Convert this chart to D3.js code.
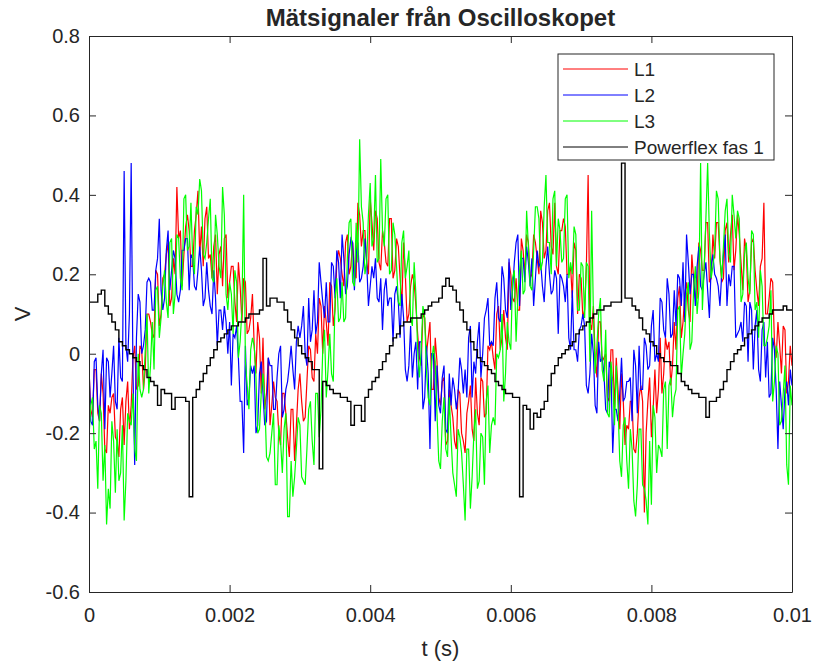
<!DOCTYPE html>
<html>
<head>
<meta charset="utf-8">
<script src="https://cdn.jsdelivr.net/npm/d3@7"></script>
<style>
  html, body { margin: 0; padding: 0; background: #ffffff; }
  svg text { font-family: "Liberation Sans", Arial, Helvetica, sans-serif; fill: #262626; }
</style>
</head>
<body>
<svg id="chart" width="815" height="663"></svg>
<script>
// ---- data (volts). Samples every 50 µs (t = i*dt) plus mid samples (t = (i+0.5)*dt) ----
const sampleInterval = 0.00005;
const seriesNames = ["L1", "L2", "L3", "Powerflex fas 1"];
const seriesColors = ["#ff0000", "#0000ff", "#00ff00", "#000000"];
const xTicks = [0, 0.002, 0.004, 0.006, 0.008, 0.01];
const xTickLabels = ["0", "0.002", "0.004", "0.006", "0.008", "0.01"];
const yTicks = [0.8, 0.6, 0.4, 0.2, 0, -0.2, -0.4, -0.6];
const yTickLabels = ["0.8", "0.6", "0.4", "0.2", "0", "-0.2", "-0.4", "-0.6"];

const L1 = [
 -.04,-.16,-.04,-.17,-.10,-.25,-.15,-.10,-.22,-.14,
 -.23,-.07,-.13,.02,-.08,.01,-.04,.10,.05,.21,
 .07,.19,.25,.12,.24,.42,.31,.25,.35,.22,
 .31,.41,.32,.34,.24,.19,.30,.25,.17,.30,
 .18,.22,.08,.17,.19,.05,.09,.02,.08,-.10,
 -.14,-.01,-.13,-.11,-.20,-.10,-.15,-.26,-.14,-.18,
 -.05,-.17,-.07,.01,-.07,.00,.12,.12,.02,.17,
 .11,.26,.20,.28,.20,.28,.19,.35,.31,.23,
 .39,.26,.34,.21,.28,.22,.34,.21,.27,.12,
 .20,.10,.20,.12,-.01,.10,.00,.08,-.09,-.02,
 -.13,-.06,-.22,-.13,-.22,-.09,-.20,-.25,-.12,-.19,
 -.06,-.18,-.07,-.15,.01,-.01,.10,.01,.11,.01,
 .20,.13,.11,.29,.20,.28,.20,.28,.20,.33,
 .26,.38,.25,.22,.31,.34,.20,.22,.28,.10,
 .19,.11,.45,.06,-.01,.08,-.02,.00,-.12,.01,
 -.01,-.19,-.12,-.18,-.12,-.24,-.20,-.08,-.40,-.12,
 -.21,-.04,-.09,-.10,.04,.03,-.03,.01,.17,.08,
 .18,.08,.19,.14,.26,.21,.33,.19,.24,.33,
 .18,.31,.23,.35,.26,.30,.16,.26,.16,.29,
 .16,.22,.38,.10,.19,.03,.08,-.05,.06,-.07,
 -.03
];
const L1mid = [
 -.14,-.04,-.15,-.05,-.24,-.13,-.11,-.21,-.26,-.11,
 -.12,-.19,-.01,-.09,.02,-.09,.10,.08,.04,.20,
 .10,.20,.28,.14,.20,.29,.17,.32,.31,.22,
 .35,.25,.22,.37,.25,.27,.15,.27,.29,.14,
 .22,.13,.23,.08,.18,.06,.15,-.05,.04,.04,
 -.10,-.18,-.07,-.12,-.23,-.10,-.21,-.14,-.27,-.09,
 -.12,-.16,.02,-.06,.05,.14,.00,.08,.18,.07,
 .23,.24,.17,.30,.22,.21,.38,.27,.31,.20,
 .33,.36,.23,.31,.23,.34,.19,.29,.19,.28,
 .08,.17,.18,.05,-.03,.09,.04,-.09,.04,-.11,
 -.07,-.23,-.09,-.16,-.24,-.10,-.22,-.15,-.08,-.22,
 -.15,-.06,-.16,.02,.03,-.04,.12,.04,.04,.23,
 .14,.19,.11,.26,.30,.19,.30,.24,.36,.24,
 .36,.27,.38,.20,.31,.32,.20,.14,.26,.20,
 .09,.22,.08,.12,-.06,.08,-.01,-.11,.01,-.14,
 -.09,-.05,-.23,-.19,-.12,-.25,-.11,-.12,-.20,-.06,
 -.14,-.15,.04,-.05,.01,-.08,.08,.14,.04,.15,
 .11,.25,.14,.28,.21,.33,.18,.30,.33,.24,
 .19,.33,.30,.21,.35,.23,.29,.13,.28,.21,
 .12,.24,.10,.14,.18,-.01,.02,.07,-.10,.02
];
const L2 = [
 -.03,-.18,-.01,-.17,.01,-.01,-.11,.02,-.14,-.06,
 .46,-.02,.48,-.28,.15,.00,.06,.19,.11,.21,
 .34,.11,.26,.16,.26,.15,.16,.26,.29,.25,
 .17,.21,.21,.14,.16,.10,.14,.11,.06,.08,
 .08,.05,.07,-.12,-.25,-.13,-.03,-.03,-.18,-.02,
 -.18,-.01,-.03,-.14,.00,-.16,-.09,-.03,-.04,.03,
 .04,.12,-.03,.03,.16,.08,.18,.09,.08,.23,
 .14,.23,.30,.15,.25,.28,.25,.18,.22,.23,
 .17,.19,.14,.19,.16,.12,.14,.15,.13,.15,
 -.04,-.03,-.06,.03,.03,-.14,.02,-.24,.00,-.03,
 -.15,-.03,-.20,-.13,-.09,-.10,-.04,-.04,.04,-.11,
 -.05,.08,.00,.11,.02,.02,.18,.08,.19,.09,
 .11,.23,.30,.24,.18,.23,.24,.19,.22,.17,
 .22,.20,.16,.19,.20,.17,.20,.01,.01,-.02,
 .07,.07,-.10,.05,-.13,.03,-.01,-.14,-.02,-.25,
 -.14,-.10,-.12,-.07,-.06,.01,-.15,-.09,.04,-.04,
 .07,-.02,-.02,.13,.04,.15,.05,.07,.19,.23,
 .30,.15,.20,.22,.17,.20,.16,.22,.20,.17,
 .20,.30,.20,.22,.04,.06,.03,.12,.13,-.04,
 .11,-.07,.08,.03,-.10,.01,-.24,-.13,-.09,-.13,
 -.08
];
const L2mid = [
 -.17,-.02,-.13,-.05,-.19,-.02,-.05,-.12,.04,-.07,
 .02,.10,-.04,.04,.13,.02,.18,.18,.11,.24,
 .16,.14,.31,.21,.24,.13,.26,.29,.16,.24,
 .16,.27,.12,.23,.12,.21,.02,.11,.12,.00,
 -.08,.04,-.01,-.12,.02,-.11,-.05,-.20,-.05,-.10,
 -.17,-.03,-.14,-.06,.02,-.14,-.07,.02,-.09,.07,
 .07,.00,.14,.06,.05,.23,.13,.18,.08,.22,
 .26,.14,.24,.17,.29,.16,.28,.19,.29,.12,
 .22,.24,.13,.06,.19,.14,.03,.17,.04,.09,
 -.07,.07,.00,-.09,.03,-.11,-.05,.00,-.17,-.13,
 -.06,-.19,-.05,-.06,-.14,-.01,-.10,-.11,.07,-.02,
 .03,-.06,.09,.14,.03,.14,.09,.22,.11,.24,
 .16,.28,.12,.24,.27,.17,.12,.26,.23,.13,
 .27,.15,.21,.05,.19,.13,.04,.16,.01,.06,
 .10,-.08,-.05,.00,-.15,-.02,-.05,-.15,-.04,-.14,
 -.17,-.01,-.11,-.07,-.17,-.03,.02,-.09,.02,-.03,
 .11,.00,.14,.06,.19,.04,.16,.20,.12,.08,
 .23,.20,.12,.27,.16,.23,.09,.25,.19,.12,
 .25,.12,.17,.22,.05,.08,.13,-.02,.11,.07,
 -.04,.06,-.06,-.11,.04,-.09,-.07,-.19,-.07,-.04
];
const L3 = [
 -.21,-.11,-.22,-.13,-.32,-.43,-.39,-.22,-.19,-.30,
 -.42,-.15,-.18,-.24,.00,-.11,.01,-.10,.08,.16,
 .04,.17,.13,.28,.10,.30,.19,.39,.26,.38,
 .20,.35,.41,.24,.34,.19,.35,.22,.42,.15,
 .18,.05,.18,.03,.40,-.08,.01,.02,-.20,-.10,
 -.11,-.27,-.20,-.33,-.18,-.30,-.15,-.41,-.36,-.24,
 -.18,-.32,-.24,-.12,-.28,-.10,-.14,.06,-.04,-.05,
 .14,.08,.18,.09,.33,.18,.33,.54,.33,.23,
 .43,.29,.23,.49,.27,.40,.21,.30,.13,.28,
 .19,.26,.07,.15,-.06,.12,-.04,-.13,.02,-.15,
 -.29,-.11,-.26,-.21,-.33,-.19,-.25,-.42,-.24,-.31,
 -.14,-.32,-.21,-.12,-.25,-.16,.00,.01,-.12,.08,
 .01,.21,.14,.26,.16,.27,.16,.37,.34,.23,
 .45,.28,.39,.22,.31,.24,.40,.23,.32,.11,
 .23,.09,.22,.36,-.05,.10,-.04,.06,-.16,-.07,
 -.03,-.27,-.18,-.27,-.19,-.37,-.33,-.19,-.34,-.43,
 -.38,-.16,-.23,-.26,-.07,-.08,-.16,-.09,.12,.00,
 .15,.01,.16,.10,.48,.21,.48,.19,.26,.39,
 .19,.36,.25,.40,.29,.34,.15,.28,.15,.30,
 .13,.21,.02,.04,.16,-.07,.00,-.17,-.03,-.33,
 -.13
];
const L3mid = [
 -.13,-.24,-.34,-.15,-.23,-.34,-.17,-.35,-.32,-.18,
 -.32,-.17,-.10,-.27,-.09,-.09,.10,-.03,-.04,.17,
 .09,.21,.09,.29,.15,.29,.16,.40,.27,.24,
 .37,.44,.25,.28,.39,.18,.30,.19,.35,.11,
 .15,.21,-.01,.11,-.02,-.14,.04,-.06,-.19,-.05,
 -.26,-.25,-.15,-.33,-.22,-.19,-.41,-.27,-.31,-.16,
 -.31,-.33,-.14,-.22,-.10,-.21,.01,-.11,.05,-.07,
 .19,.09,.08,.24,.34,.17,.23,.37,.20,.35,
 .27,.45,.24,.31,.39,.20,.33,.22,.12,.31,
 .22,.09,.23,.01,.01,.09,-.11,-.02,-.02,-.27,
 -.17,-.24,-.11,-.30,-.36,-.21,-.33,-.24,-.39,-.20,
 -.34,-.20,-.33,-.08,-.18,-.18,-.01,.10,-.05,.03,
 .19,.03,.21,.15,.36,.17,.26,.37,.21,.37,
 .28,.20,.41,.34,.23,.39,.19,.20,.30,.11,
 .22,.23,-.02,.10,.02,.14,-.07,-.15,-.02,-.18,
 -.13,-.31,-.16,-.34,-.24,-.41,-.19,-.33,-.37,-.22,
 -.13,-.30,-.24,-.09,-.24,-.06,-.11,.11,-.06,.05,
 .18,.03,.22,.16,.11,.34,.30,.22,.41,.24,
 .27,.39,.23,.35,.36,.13,.25,.19,.31,.11,
 .04,.17,.02,.07,-.12,.02,-.18,-.10,-.28,-.08
];
const powerflex = [
 .13,.13,.13,.15,.16,.12,.10,.08,.06,.03,
 .02,.01,.00,-.01,-.02,-.03,-.04,-.06,-.07,-.08,
 -.13,-.09,-.10,-.10,-.14,-.11,-.11,-.11,-.12,-.36,
 -.11,-.09,-.07,-.05,-.03,-.01,.01,.03,.04,.05,
 .06,.07,.07,.08,.08,.09,.10,.10,.10,.11,
 .24,.12,.14,.14,.13,.13,.11,.08,.06,.04,
 .02,.00,-.01,-.02,-.04,-.04,-.29,-.07,-.08,-.09,
 -.10,-.10,-.11,-.11,-.12,-.18,-.13,-.13,-.17,-.11,
 -.09,-.07,-.06,-.04,-.02,.00,.02,.04,.05,.07,
 .08,.08,.09,.09,.09,.10,.11,.12,.13,.13,
 .14,.17,.19,.17,.16,.13,.11,.08,.06,.03,
 .01,-.01,-.02,-.03,-.04,-.05,-.07,-.08,-.09,-.10,
 -.10,-.11,-.11,-.36,-.13,-.14,-.19,-.15,-.16,-.14,
 -.12,-.08,-.05,-.03,-.01,.00,.01,.02,.03,.05,
 .06,.07,.08,.09,.10,.11,.11,.12,.12,.13,
 .13,.13,.48,.14,.14,.12,.11,.09,.06,.05,
 .03,.02,.00,-.01,-.02,-.02,-.03,-.03,-.05,-.07,
 -.08,-.09,-.10,-.10,-.11,-.11,-.16,-.12,-.12,-.11,
 -.09,-.07,-.04,-.02,.00,.01,.02,.04,.05,.06,
 .07,.08,.09,.09,.10,.11,.11,.11,.12,.11,
 .11
];

// per series: main samples, mid samples
const seriesSamples = [[L1, L1mid], [L2, L2mid], [L3, L3mid], [powerflex, []]];
const seriesWidths = [1.2, 1.2, 1.2, 1.4];

function toPoints(main, mid) {
  const pts = main.map((v, i) => ({ t: i * sampleInterval, v }))
    .concat(mid.map((v, i) => ({ t: (i + 0.5) * sampleInterval, v })));
  return pts.sort((a, b) => a.t - b.t);
}

// ---- layout ----
const svg = d3.select("#chart");
const plot = { left: 89, right: 792, top: 36, bottom: 592 };
const axisColor = "#262626";
const fontStack = '"Liberation Sans", Arial, Helvetica, sans-serif';

const x = d3.scaleLinear().domain([0, 0.01]).range([plot.left, plot.right]);
const y = d3.scaleLinear().domain([-0.6, 0.8]).range([plot.bottom, plot.top]);

svg.append("rect").attr("width", 815).attr("height", 663).attr("fill", "#ffffff");

svg.append("defs").append("clipPath").attr("id", "clip")
  .append("rect").attr("x", plot.left).attr("y", plot.top)
  .attr("width", plot.right - plot.left).attr("height", plot.bottom - plot.top);

const gLines = svg.append("g").attr("clip-path", "url(#clip)");
seriesSamples.forEach(([main, mid], k) => {
  const line = d3.line()
    .x(d => x(d.t))
    .y(d => y(d.v))
    .curve(k === 3 ? d3.curveStep : d3.curveLinear);
  gLines.append("path")
    .datum(toPoints(main, mid))
    .attr("fill", "none")
    .attr("stroke", seriesColors[k])
    .attr("stroke-width", seriesWidths[k])
    .attr("d", line);
});

// axes: box with inward ticks on all four sides
const tickLen = 7;
const fmtX = d => xTickLabels[xTicks.indexOf(d)];
const fmtY = d => yTickLabels[yTicks.indexOf(d)];

const axB = svg.append("g").attr("transform", `translate(0,${plot.bottom})`)
  .call(d3.axisBottom(x).tickValues(xTicks).tickFormat(fmtX).tickSizeInner(-tickLen).tickSizeOuter(0).tickPadding(16));
const axT = svg.append("g").attr("transform", `translate(0,${plot.top})`)
  .call(d3.axisTop(x).tickValues(xTicks).tickFormat("").tickSizeInner(-tickLen).tickSizeOuter(0));
const axL = svg.append("g").attr("transform", `translate(${plot.left},0)`)
  .call(d3.axisLeft(y).tickValues(yTicks).tickFormat(fmtY).tickSizeInner(-tickLen).tickSizeOuter(0).tickPadding(9));
const axR = svg.append("g").attr("transform", `translate(${plot.right},0)`)
  .call(d3.axisRight(y).tickValues(yTicks).tickFormat("").tickSizeInner(-tickLen).tickSizeOuter(0));

[axB, axT, axL, axR].forEach(g => {
  g.select(".domain").attr("stroke", axisColor).attr("stroke-width", 1);
  g.selectAll(".tick line").attr("stroke", axisColor).attr("stroke-width", 1);
  g.selectAll(".tick text").attr("fill", axisColor)
    .style("font-family", fontStack).style("font-size", "20px");
});

// title and axis labels
svg.append("text").attr("x", (plot.left + plot.right) / 2).attr("y", 26)
  .attr("text-anchor", "middle").style("font-size", "24px").style("font-weight", "bold")
  .text("Mätsignaler från Oscilloskopet");
svg.append("text").attr("x", (plot.left + plot.right) / 2).attr("y", 656)
  .attr("text-anchor", "middle").style("font-size", "22px")
  .text("t (s)");
svg.append("text").attr("transform", `translate(30,${(plot.top + plot.bottom) / 2}) rotate(-90)`)
  .attr("text-anchor", "middle").style("font-size", "22px")
  .text("V");

// legend
const leg = svg.append("g").attr("transform", "translate(558,54)");
leg.append("rect").attr("width", 216).attr("height", 106)
  .attr("fill", "#ffffff").attr("stroke", axisColor).attr("stroke-width", 1);
seriesNames.forEach((name, k) => {
  const yy = 15 + k * 26;
  leg.append("line").attr("x1", 5).attr("x2", 70).attr("y1", yy).attr("y2", yy)
    .attr("stroke", seriesColors[k]).attr("stroke-width", 1);
  leg.append("text").attr("x", 76).attr("y", yy + 7).style("font-size", "19px").text(name);
});
</script>
</body>
</html>
